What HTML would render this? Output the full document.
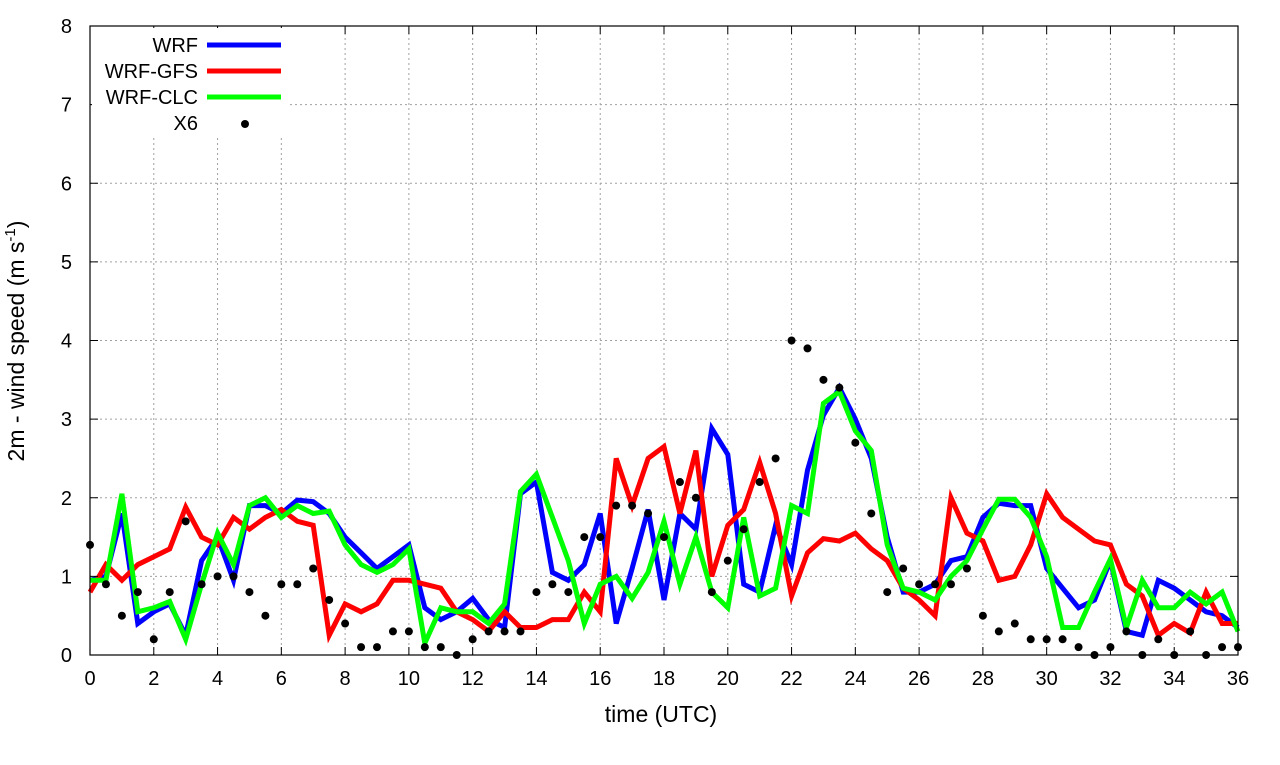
<!DOCTYPE html>
<html><head><meta charset="utf-8"><style>
body{margin:0;background:#fff;font-family:"Liberation Sans",sans-serif;}
svg text{font-family:"Liberation Sans",sans-serif;fill:#000;}
</style></head><body>
<svg id="chart" width="1280" height="760" xmlns="http://www.w3.org/2000/svg">
<g id="grid"></g>
<g id="series"></g>
<g id="axes"></g>
<text x="661" y="722" font-size="23" text-anchor="middle">time (UTC)</text>
<text transform="translate(24,341) rotate(-90)" font-size="23" text-anchor="middle">2m - wind speed  (m s<tspan font-size="15" dy="-9">-1</tspan><tspan dy="9">)</tspan></text>
<g id="legend"></g>
</svg>
<script>
const hours=[];for(let i=0;i<=72;i++)hours.push(i/2);
const wrf=[0.95,1.0,1.8,0.4,0.55,0.65,0.25,1.2,1.5,0.95,1.9,1.9,1.8,1.97,1.95,1.8,1.5,1.3,1.1,1.25,1.4,0.6,0.45,0.55,0.72,0.45,0.35,2.05,2.2,1.05,0.95,1.15,1.8,0.4,1.1,1.85,0.7,1.8,1.6,2.88,2.55,0.9,0.8,1.65,1.15,2.35,3.05,3.4,3.0,2.5,1.5,0.8,0.8,0.9,1.2,1.25,1.75,1.93,1.9,1.9,1.1,0.85,0.6,0.7,1.2,0.3,0.25,0.95,0.85,0.7,0.55,0.5,0.35];
const gfs=[0.8,1.15,0.95,1.15,1.25,1.35,1.88,1.5,1.4,1.75,1.6,1.75,1.85,1.7,1.65,0.25,0.65,0.55,0.65,0.95,0.95,0.9,0.85,0.55,0.45,0.3,0.55,0.35,0.35,0.45,0.45,0.8,0.55,2.5,1.9,2.5,2.65,1.8,2.6,1.0,1.65,1.85,2.45,1.8,0.75,1.3,1.48,1.45,1.55,1.35,1.2,0.85,0.7,0.5,2.0,1.55,1.45,0.95,1.0,1.4,2.05,1.75,1.6,1.45,1.4,0.9,0.75,0.25,0.4,0.28,0.8,0.4,0.4];
const clc=[0.95,0.95,2.05,0.55,0.6,0.68,0.2,0.9,1.55,1.15,1.9,2.0,1.75,1.9,1.8,1.83,1.4,1.15,1.05,1.15,1.35,0.15,0.6,0.55,0.55,0.4,0.65,2.08,2.3,1.75,1.2,0.4,0.9,1.0,0.72,1.05,1.7,0.9,1.5,0.8,0.6,1.75,0.75,0.85,1.9,1.8,3.2,3.35,2.85,2.6,1.4,0.85,0.8,0.7,1.0,1.2,1.6,1.98,1.98,1.75,1.25,0.35,0.35,0.8,1.22,0.35,0.95,0.6,0.6,0.8,0.65,0.8,0.3];
const obs=[1.4,0.9,0.5,0.8,0.2,0.8,1.7,0.9,1.0,1.0,0.8,0.5,0.9,0.9,1.1,0.7,0.4,0.1,0.1,0.3,0.3,0.1,0.1,0.0,0.2,0.3,0.3,0.3,0.8,0.9,0.8,1.5,1.5,1.9,1.9,1.8,1.5,2.2,2.0,0.8,1.2,1.6,2.2,2.5,4.0,3.9,3.5,3.4,2.7,1.8,0.8,1.1,0.9,0.9,0.9,1.1,0.5,0.3,0.4,0.2,0.2,0.2,0.1,0.0,0.1,0.3,0.0,0.2,0.0,0.3,0.0,0.1,0.1];
const xTicks=[0,2,4,6,8,10,12,14,16,18,20,22,24,26,28,30,32,34,36];
const yTicks=[0,1,2,3,4,5,6,7,8];
const X0=90,X1=1238,Y0=655,Y1=26;
const sx=t=>X0+t/36*(X1-X0), sy=v=>Y0-v/8*(Y0-Y1);
const NS="http://www.w3.org/2000/svg";
function mk(tag,attrs,parent){const e=document.createElementNS(NS,tag);for(const k in attrs)e.setAttribute(k,attrs[k]);parent.appendChild(e);return e;}
const grid=document.getElementById('grid'),axes=document.getElementById('axes'),ser=document.getElementById('series'),leg=document.getElementById('legend');
xTicks.forEach(t=>{const x=sx(t);
 if(t>0&&t<36){const g=mk('line',{x1:x,x2:x,y1:Y0,y2:Y1,stroke:'#a0a0a0','stroke-dasharray':'2,3','stroke-width':1},grid);
 
 }
 mk('line',{x1:x,x2:x,y1:Y0,y2:Y0-8,stroke:'#000'},axes);mk('line',{x1:x,x2:x,y1:Y1,y2:Y1+8,stroke:'#000'},axes);
 const tx=mk('text',{x:x,y:Y0+30,'font-size':20,'text-anchor':'middle'},axes);tx.textContent=t;
 
 });
yTicks.forEach(v=>{const y=sy(v);
 if(v>0&&v<8){const g=mk('line',{x1:X0,x2:X1,y1:y,y2:y,stroke:'#a0a0a0','stroke-dasharray':'2,3','stroke-width':1},grid);
 
 }
 mk('line',{x1:X0,x2:X0+8,y1:y,y2:y,stroke:'#000'},axes);mk('line',{x1:X1,x2:X1-8,y1:y,y2:y,stroke:'#000'},axes);
 const tx=mk('text',{x:X0-18,y:y+7,'font-size':20,'text-anchor':'end'},axes);tx.textContent=v;
 
 });
mk('rect',{x:X0,y:Y1,width:X1-X0,height:Y0-Y1,fill:'none',stroke:'#000','stroke-width':1.2},axes);
function line(arr,color,name){const d=arr.map((v,i)=>(i?'L':'M')+sx(hours[i]).toFixed(1)+','+sy(v).toFixed(1)).join('');
 const p=mk('path',{d:d,fill:'none',stroke:color,'stroke-width':5,'stroke-linejoin':'miter'},ser);
 
 }
line(wrf,'#0000ff','wrf-line');line(gfs,'#ff0000','wrf-gfs-line');line(clc,'#00ff00','wrf-clc-line');
obs.forEach((v,i)=>{const c=mk('circle',{cx:sx(hours[i]),cy:sy(v),r:4,fill:'#000'},ser);
 
 });
mk('rect',{x:92,y:28,width:198,height:108,fill:'#fff'},leg);
[['WRF','#0000ff',45],['WRF-GFS','#ff0000',71],['WRF-CLC','#00ff00',97]].forEach(([n,c,y])=>{
 const t=mk('text',{x:198,y:y+7,'font-size':20,'text-anchor':'end'},leg);t.textContent=n;
 
 
 const l=mk('line',{x1:207,x2:281,y1:y,y2:y,stroke:c,'stroke-width':5},leg);
 
 });
const t6=mk('text',{x:198,y:130,'font-size':20,'text-anchor':'end'},leg);t6.textContent='X6';


const d6=mk('circle',{cx:245,cy:124,r:4,fill:'#000'},leg);


</script>
</body></html>
